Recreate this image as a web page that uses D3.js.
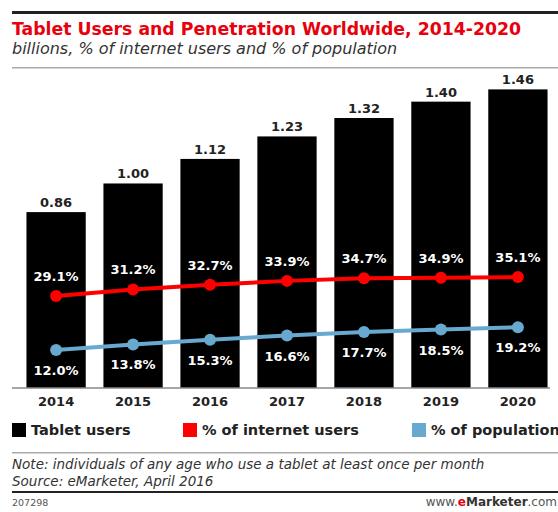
<!DOCTYPE html>
<html>
<head>
<meta charset="utf-8">
<script src="https://cdn.jsdelivr.net/npm/d3@7"></script>
<style>
  body { margin: 0; background: #fff; }
  svg text { font-family: "DejaVu Sans", Verdana, sans-serif; }
</style>
</head>
<body>
<div id="chart"></div>
<script>
const years = ["2014", "2015", "2016", "2017", "2018", "2019", "2020"];
const tabletUsers = [0.86, 1.00, 1.12, 1.23, 1.32, 1.40, 1.46];
const pctInternet = [29.1, 31.2, 32.7, 33.9, 34.7, 34.9, 35.1];
const pctPopulation = [12.0, 13.8, 15.3, 16.6, 17.7, 18.5, 19.2];
const legendLabels = ["Tablet users", "% of internet users", "% of population"];

const width = 558, height = 512;
const colors = { bar: "#000", internet: "#ff0000", population: "#67a9cf" };

const svg = d3.select("#chart")
  .append("svg")
  .attr("width", width)
  .attr("height", height);

// header
svg.append("rect").attr("x", 12).attr("y", 11).attr("width", width - 12).attr("height", 3).attr("fill", "#222");
svg.append("text")
  .attr("x", 12).attr("y", 35)
  .attr("fill", "#e8000d")
  .style("font-size", "17.3px")
  .style("font-weight", "bold")
  .text("Tablet Users and Penetration Worldwide, 2014-2020");
svg.append("text")
  .attr("x", 12).attr("y", 54)
  .attr("fill", "#333")
  .style("font-size", "16px")
  .style("font-style", "italic")
  .text("billions, % of internet users and % of population");
svg.append("rect").attr("x", 12).attr("y", 67).attr("width", width - 12).attr("height", 1.5).attr("fill", "#aaa");

// scales
const x = d3.scaleBand()
  .domain(years)
  .range([18, 556])
  .paddingInner(0.23)
  .paddingOuter(0.11);

const yBar = d3.scaleLinear().domain([0, 1.545]).range([388, 72]);
const yPct = d3.scaleLinear().domain([0, 100]).range([388, 72]);

// bars
svg.append("g")
  .selectAll("rect")
  .data(tabletUsers)
  .join("rect")
  .attr("x", (d, i) => x(years[i]))
  .attr("y", d => yBar(d))
  .attr("width", x.bandwidth())
  .attr("height", d => yBar(0) - yBar(d))
  .attr("fill", colors.bar);

svg.append("g")
  .selectAll("text")
  .data(tabletUsers)
  .join("text")
  .attr("x", (d, i) => x(years[i]) + x.bandwidth() / 2)
  .attr("y", d => yBar(d) - 5)
  .attr("text-anchor", "middle")
  .attr("fill", "#222")
  .style("font-size", "13px")
  .style("font-weight", "bold")
  .text(d => d.toFixed(2));

// x axis
const xAxis = svg.append("g")
  .attr("transform", "translate(0,388)")
  .call(d3.axisBottom(x).tickSize(0).tickPadding(9));
xAxis.select(".domain").attr("d", "M12,0H550").attr("stroke", "#888").attr("stroke-width", 1.5);
xAxis.selectAll("text")
  .attr("fill", "#222")
  .style("font-size", "13px")
  .style("font-weight", "bold")
  .style("font-family", "'DejaVu Sans', sans-serif");

// lines
const cx = (d, i) => x(years[i]) + x.bandwidth() / 2;

function drawSeries(values, color, labelDy) {
  const line = d3.line().x(cx).y(d => yPct(d));
  svg.append("path")
    .datum(values)
    .attr("d", line)
    .attr("fill", "none")
    .attr("stroke", color)
    .attr("stroke-width", 4);
  svg.append("g")
    .selectAll("circle")
    .data(values)
    .join("circle")
    .attr("cx", cx)
    .attr("cy", d => yPct(d))
    .attr("r", 6)
    .attr("fill", color);
  svg.append("g")
    .selectAll("text")
    .data(values)
    .join("text")
    .attr("x", cx)
    .attr("y", d => yPct(d) + labelDy)
    .attr("text-anchor", "middle")
    .attr("fill", "#fff")
    .style("font-size", "13px")
    .style("font-weight", "bold")
    .text(d => d.toFixed(1) + "%");
}

drawSeries(pctInternet, colors.internet, -15);
drawSeries(pctPopulation, colors.population, 25);

// legend
const legendX = [12, 183, 412];
const legendColors = [colors.bar, colors.internet, colors.population];
const legend = svg.append("g")
  .selectAll("g")
  .data(legendLabels)
  .join("g")
  .attr("transform", (d, i) => `translate(${legendX[i]},423)`);
legend.append("rect")
  .attr("width", 14).attr("height", 14)
  .attr("fill", (d, i) => legendColors[i]);
legend.append("text")
  .attr("x", 19).attr("y", 12)
  .attr("fill", "#222")
  .style("font-size", "14.5px")
  .style("font-weight", "bold")
  .text(d => d);

// footer
svg.append("rect").attr("x", 12).attr("y", 452).attr("width", width - 12).attr("height", 1.5).attr("fill", "#aaa");
svg.append("text")
  .attr("x", 12).attr("y", 469)
  .attr("fill", "#333")
  .style("font-size", "13.5px")
  .style("font-style", "italic")
  .text("Note: individuals of any age who use a tablet at least once per month");
svg.append("text")
  .attr("x", 12).attr("y", 486)
  .attr("fill", "#333")
  .style("font-size", "13.5px")
  .style("font-style", "italic")
  .text("Source: eMarketer, April 2016");
svg.append("rect").attr("x", 12).attr("y", 491).attr("width", width - 12).attr("height", 2).attr("fill", "#222");
svg.append("text")
  .attr("x", 12).attr("y", 506)
  .attr("fill", "#555")
  .style("font-size", "9.5px")
  .text("207298");
const site = svg.append("text")
  .attr("x", 557).attr("y", 506)
  .attr("text-anchor", "end")
  .attr("fill", "#555")
  .style("font-size", "12px");
site.append("tspan").text("www.");
site.append("tspan").attr("fill", "#e8000d").style("font-weight", "bold").text("e");
site.append("tspan").attr("fill", "#333").style("font-weight", "bold").text("Marketer");
site.append("tspan").text(".com");
</script>
</body>
</html>
